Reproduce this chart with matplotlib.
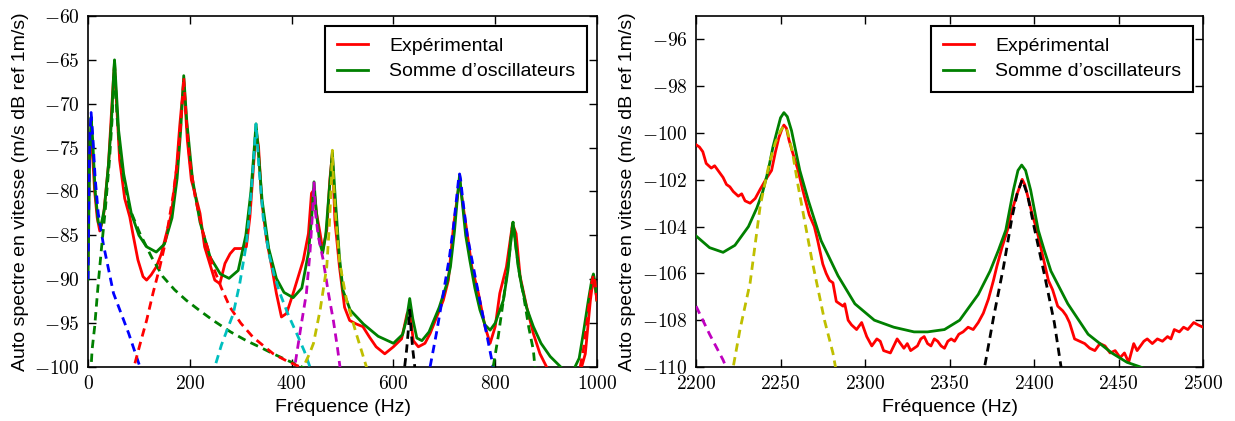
import matplotlib
matplotlib.use("Agg")
import matplotlib.pyplot as plt
from matplotlib.ticker import FuncFormatter, MultipleLocator

# ---------------- data ----------------
# Left panel: 0-1000 Hz
exp_left_f = [0, 2, 4, 6, 9, 13, 18, 23, 30, 40, 46, 50, 52, 55, 58, 62, 72, 82, 88, 98,
              108, 115, 124, 134, 144, 154, 164, 174, 180, 188, 195, 203, 210, 220, 229,
              239, 249, 259, 269, 279, 288, 301, 311, 318, 325, 330, 335, 341, 351, 361,
              370, 380, 390, 403, 413, 423, 433, 439, 444, 449, 456, 461, 469, 475, 480,
              485, 494, 504, 514, 527, 540, 553, 566, 583, 600, 616, 627, 632, 639, 649,
              662, 672, 685, 698, 708, 718, 730, 737, 747, 754, 767, 780, 790, 800, 809,
              822, 834, 841, 849, 862, 875, 888, 901, 910, 965, 977, 987, 993, 1000]
exp_left_db = [-88, -78, -75, -74, -76, -80, -83, -84.5, -83, -77, -71, -67, -65.5, -69, -72,
               -76.4, -80.8, -82.9, -84.8, -87.8, -89.7, -90.1, -89.5, -88.6, -87.1, -84.8,
               -82.5, -77.2, -72.6, -67.5, -74.1, -78.7, -80.2, -82.5, -86.3, -88.2, -90.1,
               -90.5, -88.2, -87.1, -86.5, -86.5, -86.3, -82.9, -77.2, -73.0, -74.9, -81.0,
               -85.6, -88.6, -91.6, -94.3, -93.9, -91.6, -89.7, -87.8, -84.8, -80.2, -79.8,
               -82.5, -84.8, -86.7, -84.4, -78.7, -75.7, -83.3, -88.6, -93.2, -94.7, -95.1,
               -95.4, -96.6, -97.7, -98.5, -97.7, -96.8, -93.9, -93.5, -97.0, -97.7, -97.3,
               -96.2, -94.3, -92.4, -90.1, -84.0, -78.7, -81.7, -85.6, -88.6, -91.6, -95.4,
               -97.3, -95.4, -91.6, -88.6, -83.7, -84.8, -89.7, -93.2, -96.2, -98.5, -100,
               -101, -101, -98.5, -92.4, -89.7, -92.4]

sum_left_f = [0, 3, 6, 9, 14, 20, 25, 32, 40, 46, 50, 52, 55, 60, 70, 85, 100, 115, 134, 150,
              165, 175, 182, 188, 194, 205, 220, 240, 260, 277, 295, 310, 320, 326, 330, 334,
              342, 355, 370, 385, 403, 420, 433, 440, 444, 448, 455, 461, 467, 473, 480, 486,
              494, 501, 515, 541, 570, 600, 618, 626, 632, 638, 646, 656, 670, 690, 705, 712,
              720, 726, 730, 734, 742, 750, 760, 770, 780, 790, 800, 816, 825, 831, 835, 839,
              845, 852, 862, 875, 890, 908, 934, 950, 965, 973, 983, 990, 993, 996, 1000]
sum_left_db = [-90, -76, -71.5, -74, -80, -83.5, -84, -82, -77, -72, -67, -65, -68, -73, -78,
               -82.5, -85, -86.3, -86.9, -86, -83, -78.5, -73, -66.8, -72, -78.5, -83.5, -87.5,
               -89.4, -89.9, -89, -85, -80, -75.5, -72.3, -75, -81, -86.5, -89.9, -91.5, -92.1,
               -91, -87, -82.5, -78.9, -82, -85.8, -87, -85, -80.5, -75.5, -81, -87.5, -91.3,
               -93.5, -95.1, -96.5, -97.3, -96.3, -94.5, -92.2, -94.5, -96.7, -97, -96, -93.2,
               -90.5, -88.6, -84.5, -80.5, -78.1, -80.5, -85, -87.8, -91, -93.5, -95.2, -95.8,
               -95, -92.4, -89, -85.5, -83.5, -85.5, -88.5, -90.8, -93.3, -95.4, -97.3, -98.8,
               -100.3, -100.8, -99, -96.2, -92.4, -90, -89.4, -90.3, -92.4]

# individual oscillators, left panel
osc1_f = [0, 2, 4, 6, 9, 14, 20, 30, 50, 80, 102, 115]
osc1_db = [-90, -78, -73, -71, -73.5, -78.5, -82.5, -86, -91.6, -96.2, -100, -101.5]
osc2_f = [5, 8, 13, 20, 26, 34, 42, 47, 50, 52, 54, 57, 62, 70, 82, 102, 125, 147, 170, 193,
          220, 246, 280, 311, 340, 364, 390, 420, 440]
osc2_db = [-101, -98, -95.4, -90.5, -86.7, -82, -76.5, -72, -68, -65, -68, -71.5, -75, -78.5,
           -82, -84.8, -87.5, -89.7, -91.2, -92.4, -93.6, -94.7, -96, -97, -97.8, -98.5,
           -99.2, -100, -100.5]
osc3_f = [80, 92, 104, 115, 128, 141, 150, 157, 167, 176, 182, 186, 188, 190, 194, 200, 210,
          225, 246, 262, 279, 300, 324, 345, 364, 390, 417, 430]
osc3_db = [-101, -99.6, -97, -94.7, -91.5, -88.6, -86.3, -84, -80.5, -76.5, -72.5, -69, -67,
           -69, -72.5, -76.5, -80.5, -84.5, -88.6, -91, -93.2, -95, -96.6, -97.6, -98.5,
           -99.3, -100, -100.5]
osc4_f = [240, 249, 262, 275, 285, 298, 311, 318, 324, 328, 330, 332, 336, 344, 355, 366, 377,
          393, 410, 425, 436, 445]
osc4_db = [-101, -100, -97.5, -95.5, -94, -90.5, -86, -82, -77.5, -74, -72.3, -74, -77.5,
           -82.9, -87, -89.6, -91.6, -94, -96.2, -98.2, -100, -101]
osc5_f = [400, 406, 418, 429, 436, 441, 444, 447, 452, 462, 472, 482, 490, 495, 500]
osc5_db = [-101, -100, -95.5, -91.6, -87, -82.5, -79, -82.5, -85, -87.8, -91.5, -94.7, -97.8,
           -100, -101]
osc6_f = [418, 423, 435, 443, 456, 469, 474, 478, 480, 482, 486, 494, 508, 527, 547, 555]
osc6_db = [-101, -100, -98.5, -97.3, -93.5, -88.6, -84, -79, -75.3, -78.5, -82.5, -88, -92.4,
           -96.2, -100, -101]
osc7_f = [618, 622, 626, 629, 631, 632, 633, 635, 638, 642, 646, 650]
osc7_db = [-101.5, -100, -98, -96, -94.3, -93.5, -94.3, -96, -98, -100, -101.5, -102]
osc8_f = [665, 672, 685, 698, 710, 718, 724, 728, 730, 732, 736, 745, 757, 770, 783, 796, 802]
osc8_db = [-101.5, -100, -96, -91.6, -87.5, -84, -80.8, -78.6, -78, -78.6, -80.8, -85, -88.6,
           -92.5, -96.2, -100, -101.5]
osc9_f = [790, 796, 806, 816, 824, 829, 833, 835, 837, 841, 848, 855, 866, 875, 878, 882]
osc9_db = [-101.5, -100, -96.5, -92.4, -89, -86.5, -84.3, -83.5, -84.3, -86.5, -89.5, -91.6,
           -95.5, -98.1, -100, -101.5]
osc10_f = [960, 967, 973, 980, 986, 990, 993, 996, 1000]
osc10_db = [-101.5, -100, -98.1, -95, -92, -90.3, -89.5, -90.3, -92.5]

# Right panel: 2200-2500 Hz
exp_right_f = [2200, 2202, 2204, 2206, 2209, 2211, 2214, 2216, 2218, 2220, 2222, 2225, 2227,
               2229, 2232, 2235, 2238, 2242, 2244.7, 2247, 2249, 2251, 2252, 2253.5, 2255,
               2257, 2260.4, 2263, 2267, 2270, 2272, 2275, 2277, 2279, 2281, 2283, 2287, 2288,
               2290, 2292, 2295, 2298, 2301, 2304, 2307, 2309, 2311, 2315, 2317, 2319, 2321,
               2323, 2325, 2327, 2329, 2331, 2333, 2335, 2337, 2339, 2341, 2343, 2345, 2347,
               2349, 2351, 2353, 2355.5, 2358, 2361, 2364, 2367, 2370, 2373, 2376, 2378, 2381,
               2384.5, 2387, 2390, 2392, 2393, 2394.5, 2397, 2399, 2401.5, 2405, 2408.5, 2411,
               2414, 2417, 2419, 2421, 2424, 2427, 2430, 2433, 2436, 2439, 2442, 2445, 2448,
               2451, 2453.5, 2456, 2459, 2461, 2463, 2465, 2467, 2470, 2473, 2476, 2479, 2481,
               2483, 2486, 2488.5, 2491, 2494.5, 2497, 2500]
exp_right_db = [-100.5, -100.6, -100.8, -101.3, -101.5, -101.4, -101.7, -101.9, -102.2,
                -102.3, -102.5, -102.7, -102.6, -102.9, -103.0, -102.8, -102.4, -101.9,
                -101.6, -100.8, -100.2, -99.8, -99.66, -99.8, -100.3, -100.8, -101.6, -102.4,
                -103.5, -104.0, -104.6, -105.6, -106.0, -106.3, -106.4, -107.2, -107.4,
                -107.3, -108.0, -108.2, -108.4, -108.1, -108.7, -109.1, -108.8, -108.9,
                -109.3, -109.4, -109.1, -108.8, -109.0, -109.2, -109.0, -109.3, -109.2,
                -109.1, -108.8, -108.7, -109.0, -109.1, -108.8, -108.9, -109.1, -109.2,
                -108.9, -108.8, -108.9, -108.6, -108.5, -108.3, -108.4, -108.1, -107.7,
                -107.1, -106.3, -105.7, -104.9, -104.1, -103.3, -102.6, -102.2, -101.98,
                -102.2, -102.9, -103.5, -104.1, -105.2, -106.3, -106.7, -107.4, -107.6,
                -107.8, -108.1, -108.8, -108.9, -109.0, -109.2, -109.3, -109.0, -109.1,
                -109.4, -109.3, -109.6, -109.4, -109.8, -109.0, -109.3, -109.1, -108.9,
                -108.8, -109.0, -108.8, -108.9, -108.7, -108.8, -108.4, -108.5, -108.3,
                -108.4, -108.1, -108.2, -108.3]
sum_right_f = [2200, 2208, 2216, 2223, 2231, 2236, 2239.5, 2242.7, 2245.5, 2248, 2250, 2252,
               2254, 2256.5, 2258.5, 2261.4, 2266.5, 2274, 2284, 2294, 2305.5, 2317, 2329,
               2337, 2347, 2356, 2367, 2374, 2379, 2383.3, 2387.8, 2390.5, 2392.7, 2395, 2398,
               2402.5, 2406, 2410, 2420, 2432, 2446, 2455, 2463, 2475]
sum_right_db = [-104.4, -104.9, -105.1, -104.8, -104.0, -103.2, -102.5, -101.6, -100.6,
                -99.9, -99.35, -99.13, -99.3, -99.9, -100.6, -101.6, -102.9, -104.6, -106.1,
                -107.3, -108.0, -108.3, -108.5, -108.5, -108.4, -108.0, -106.9, -105.9,
                -105.0, -104.15, -102.44, -101.6, -101.37, -101.6, -102.44, -104.15, -105.0,
                -105.9, -107.3, -108.6, -109.4, -109.8, -110.0, -110.4]
oscR1_f = [2200, 2208, 2216, 2220]
oscR1_db = [-107.4, -108.6, -109.7, -110.4]
oscR2_f = [2220, 2222, 2226, 2232, 2238, 2243, 2247, 2250, 2252, 2254, 2257, 2260.5, 2268.5,
           2276, 2281, 2282.5, 2284]
oscR2_db = [-110.5, -110, -108.4, -106.4, -103.1, -101.4, -100.4, -99.9, -99.7, -99.9, -100.8,
            -102.3, -105.4, -108.0, -109.4, -110, -110.5]
oscR3_f = [2369, 2371, 2376, 2382, 2387, 2390, 2393, 2396, 2400, 2406, 2412, 2416, 2418]
oscR3_db = [-110.5, -109.9, -107.9, -105.7, -103.6, -102.6, -102.0, -102.6, -104.0, -106.0,
            -108.1, -110, -110.5]

labels = ["Expérimental", "Somme d’oscillateurs"]
xlabel = "Fréquence (Hz)"
ylabel = "Auto spectre en vitesse (m/s dB ref 1m/s)"

# ---------------- style ----------------
plt.rcParams["mathtext.fontset"] = "cm"
plt.rcParams["font.family"] = ["Liberation Sans", "DejaVu Sans"]
plt.rcParams["lines.scale_dashes"] = False

C = {"b": "#0000ff", "g": "#008000", "r": "#ff0000", "c": "#00bfbf",
     "m": "#bf00bf", "y": "#bfbf00", "k": "#000000"}
DASH = (6, 4)

fig = plt.figure(figsize=(12.35, 4.21), dpi=100)
axL = fig.add_axes([0.0713, 0.1283, 0.4121, 0.8337])
axR = fig.add_axes([0.5636, 0.1283, 0.4105, 0.8337])

fmt = FuncFormatter(lambda v, p: "$%g$" % v)


def style(ax):
    ax.tick_params(direction="in", top=True, right=True, length=6, width=1,
                   labelsize=14, pad=6)
    ax.xaxis.set_major_formatter(fmt)
    ax.yaxis.set_major_formatter(fmt)
    for s in ax.spines.values():
        s.set_linewidth(1.2)
    ax.set_xlabel(xlabel, fontsize=14, labelpad=4)
    ax.set_ylabel(ylabel, fontsize=14, labelpad=4)


left_osc = [(osc1_f, osc1_db, "b"), (osc2_f, osc2_db, "g"), (osc3_f, osc3_db, "r"),
            (osc4_f, osc4_db, "c"), (osc5_f, osc5_db, "m"), (osc6_f, osc6_db, "y"),
            (osc7_f, osc7_db, "k"), (osc8_f, osc8_db, "b"), (osc9_f, osc9_db, "g"),
            (osc10_f, osc10_db, "r")]
right_osc = [(oscR1_f, oscR1_db, "m"), (oscR2_f, oscR2_db, "y"), (oscR3_f, oscR3_db, "k")]

for ax, ef, ed, sf, sd, oscs in [(axL, exp_left_f, exp_left_db, sum_left_f, sum_left_db, left_osc),
                                 (axR, exp_right_f, exp_right_db, sum_right_f, sum_right_db, right_osc)]:
    ax.plot(ef, ed, color=C["r"], lw=2, label=labels[0], zorder=3)
    ax.plot(sf, sd, color=C["g"], lw=2, label=labels[1], zorder=4)
    for f, d, c in oscs:
        ax.plot(f, d, color=C[c], lw=2, dashes=DASH, zorder=5)
    style(ax)
    leg = ax.legend(loc="upper right", fontsize=14, fancybox=False, framealpha=1,
                    edgecolor="black", handlelength=1.6, handletextpad=1.1,
                    borderaxespad=0.5, borderpad=0.6, labelspacing=0.4)
    leg.get_frame().set_linewidth(1.5)

axL.set_xlim(0, 1000)
axL.set_ylim(-100, -60)
axL.xaxis.set_major_locator(MultipleLocator(200))
axL.yaxis.set_major_locator(MultipleLocator(5))
axR.set_xlim(2200, 2500)
axR.set_ylim(-110, -95)
axR.xaxis.set_major_locator(MultipleLocator(50))
axR.yaxis.set_major_locator(MultipleLocator(2))

fig.savefig("out.png", dpi=100, facecolor="white")
